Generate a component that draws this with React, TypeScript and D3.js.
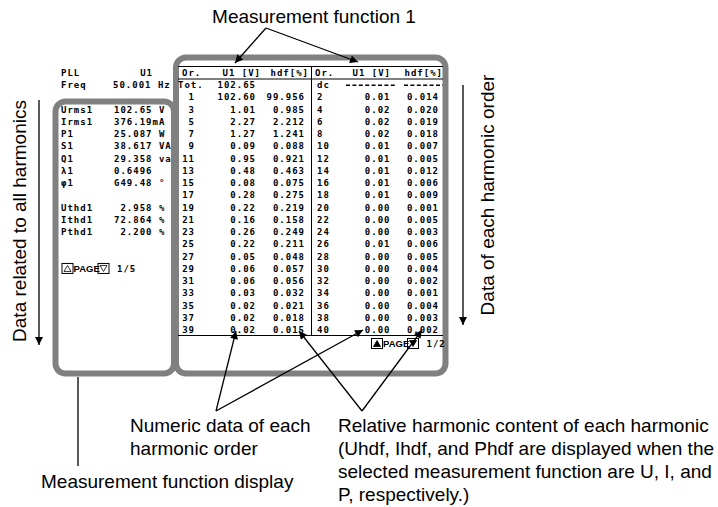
import React, { useEffect, useRef } from 'react';
import * as d3 from 'd3';

// harmonic list, left half (odd orders) and right half (even orders)
const oddOrders = ['Tot.', '1', '3', '5', '7', '9', '11', '13', '15', '17', '19', '21', '23', '25', '27', '29', '31', '33', '35', '37', '39'];
const oddU1 = ['102.65', '102.60', '1.01', '2.27', '1.27', '0.09', '0.95', '0.48', '0.08', '0.28', '0.22', '0.16', '0.26', '0.22', '0.05', '0.06', '0.06', '0.03', '0.02', '0.02', '0.02'];
const oddHdf = ['', '99.956', '0.985', '2.212', '1.241', '0.088', '0.921', '0.463', '0.075', '0.275', '0.219', '0.158', '0.249', '0.211', '0.048', '0.057', '0.056', '0.032', '0.021', '0.018', '0.015'];
const evenOrders = ['dc', '2', '4', '6', '8', '10', '12', '14', '16', '18', '20', '22', '24', '26', '28', '30', '32', '34', '36', '38', '40'];
const evenU1 = ['', '0.01', '0.02', '0.02', '0.02', '0.01', '0.01', '0.01', '0.01', '0.01', '0.00', '0.00', '0.00', '0.01', '0.00', '0.00', '0.00', '0.00', '0.00', '0.00', '0.00'];
const evenHdf = ['', '0.014', '0.020', '0.019', '0.018', '0.007', '0.005', '0.012', '0.006', '0.009', '0.001', '0.005', '0.003', '0.006', '0.005', '0.004', '0.002', '0.001', '0.004', '0.003', '0.002'];

// measurement function display (left panel), row index on the same grid
const infoRows = [2, 3, 4, 5, 6, 7, 8, 10, 11, 12];
const infoLabels = ['Urms1', 'Irms1', 'P1', 'S1', 'Q1', 'λ1', 'φ1', 'Uthd1', 'Ithd1', 'Pthd1'];
const infoValues = ['102.65 V', '376.19mA', '25.087 W', '38.617 VA', '29.358 va', '0.6496', 'G49.48 °', ' 2.958 %', '72.864 %', ' 2.200 %'];

const relLines = [
  'Relative harmonic content of each harmonic',
  '(Uhdf, Ihdf, and Phdf are displayed when the',
  'selected measurement function are U, I, and',
  'P, respectively.)',
];

const SANS = '"Liberation Sans", Arial, sans-serif';
const MONO = '"DejaVu Sans Mono", monospace';
const GRAY = '#808080';

const App = () => {
  const svgRef = useRef(null);

  useEffect(() => {
    const width = 718;
    const height = 507;

    const svg = d3.select(svgRef.current)
      .attr('width', width)
      .attr('height', height);
    svg.selectAll('*').remove();

    const rowY = d3.scalePoint()
      .domain(d3.range(oddOrders.length))
      .range([84.7, 329.7]);
    const headerY = 73;

    svg.append('defs').append('marker')
      .attr('id', 'arr')
      .attr('viewBox', '0 0 10 10')
      .attr('refX', 10)
      .attr('refY', 5)
      .attr('markerUnits', 'userSpaceOnUse')
      .attr('markerWidth', 10)
      .attr('markerHeight', 8)
      .attr('orient', 'auto')
      .append('path')
      .attr('d', 'M0,0 L10,5 L0,10 z')
      .attr('fill', '#000');

    // gray frames
    svg.append('rect')
      .attr('x', 55.5).attr('y', 101.5)
      .attr('width', 174 - 55.5).attr('height', 373.5 - 101.5)
      .attr('rx', 10)
      .style('fill', 'none').style('stroke', GRAY).style('stroke-width', 6);
    svg.append('rect')
      .attr('x', 176).attr('y', 57.5)
      .attr('width', 445.5 - 176).attr('height', 373.5 - 57.5)
      .attr('rx', 10)
      .style('fill', 'none').style('stroke', GRAY).style('stroke-width', 6);

    const mono = (x, y, txt, anchor = 'start', size = 9, ls = 1) =>
      svg.append('text')
        .attr('x', x).attr('y', y).attr('dy', '0.37em')
        .attr('text-anchor', anchor)
        .style('font-family', MONO)
        .style('font-weight', 'bold')
        .style('font-size', size + 'px')
        .style('letter-spacing', ls + 'px')
        .style('white-space', 'pre')
        .style('fill', '#000')
        .text(txt);

    // table rules
    const tl = (x1, y1, x2, y2) => svg.append('line')
      .attr('x1', x1).attr('y1', y1).attr('x2', x2).attr('y2', y2)
      .style('stroke', '#000').style('stroke-width', 1);
    tl(178, 66.5, 443, 66.5);
    tl(178, 79, 443, 79);
    tl(178, 335.5, 443, 335.5);
    tl(311.5, 66.5, 311.5, 335.5);

    // headers
    mono(182, headerY, 'Or.');
    mono(261, headerY, 'U1 [V]', 'end');
    mono(309, headerY, 'hdf[%]', 'end');
    mono(315, headerY, 'Or.');
    mono(391, headerY, 'U1 [V]', 'end');
    mono(443, headerY, 'hdf[%]', 'end');

    oddOrders.forEach((o, i) => {
      if (i === 0) mono(178, rowY(i), o);
      else mono(195, rowY(i), o, 'end');
      mono(256, rowY(i), oddU1[i], 'end');
      if (oddHdf[i]) mono(305, rowY(i), oddHdf[i], 'end');
    });
    evenOrders.forEach((o, i) => {
      mono(317, rowY(i), o);
      if (evenU1[i]) mono(390.5, rowY(i), evenU1[i], 'end');
      if (evenHdf[i]) mono(439, rowY(i), evenHdf[i], 'end');
    });
    // dashes of the dc row
    [[346, 397], [404, 443]].forEach(([a, b]) => {
      svg.append('line')
        .attr('x1', a).attr('x2', b)
        .attr('y1', rowY(0) + 0.5).attr('y2', rowY(0) + 0.5)
        .style('stroke', '#000').style('stroke-width', 1.4)
        .style('stroke-dasharray', '4 2.4');
    });

    // left panel
    mono(61, headerY, 'PLL');
    mono(153, headerY, 'U1', 'end');
    mono(61, rowY(0), 'Freq');
    mono(113, rowY(0), '50.001 Hz');
    infoRows.forEach((r, i) => {
      mono(61, rowY(r), infoLabels[i]);
      mono(114, rowY(r), infoValues[i]);
    });

    // page buttons
    const pageBtn = (x, y, filled, pageTxt) => {
      const cy = y;
      const box = (bx, up) => {
        svg.append('rect')
          .attr('x', bx).attr('y', cy - 5)
          .attr('width', 11).attr('height', 10)
          .style('fill', 'none').style('stroke', '#000').style('stroke-width', 1);
        const tri = up
          ? `M${bx + 2},${cy + 3} L${bx + 5.5},${cy - 3} L${bx + 9},${cy + 3} Z`
          : `M${bx + 2},${cy - 3} L${bx + 5.5},${cy + 3} L${bx + 9},${cy - 3} Z`;
        svg.append('path').attr('d', tri)
          .style('fill', filled ? '#000' : 'none')
          .style('stroke', '#000').style('stroke-width', 0.8);
      };
      box(x, true);
      svg.append('text')
        .attr('x', x + 11.5).attr('y', cy).attr('dy', '0.37em')
        .style('font-family', SANS).style('font-weight', 'bold')
        .style('font-size', '9.5px').style('fill', '#000')
        .text('PAGE');
      box(x + 36, false);
      mono(x + 55, cy, pageTxt);
    };
    pageBtn(62, rowY(15), false, '1/5');
    pageBtn(371.5, 343.5, true, '1/2');

    // annotations
    const label = (x, y, txt, anchor = 'start') => svg.append('text')
      .attr('x', x).attr('y', y)
      .attr('text-anchor', anchor)
      .style('font-family', SANS)
      .style('font-size', '19px')
      .style('fill', '#000')
      .text(txt);
    const arrow = (x1, y1, x2, y2, head = true) => svg.append('line')
      .attr('x1', x1).attr('y1', y1).attr('x2', x2).attr('y2', y2)
      .style('stroke', '#000').style('stroke-width', 1.3)
      .attr('marker-end', head ? 'url(#arr)' : null);

    label(314, 23, 'Measurement function 1', 'middle');
    arrow(266, 28, 235, 63);
    arrow(266, 28, 358, 62);

    label(130, 432, 'Numeric data of each');
    label(130, 455, 'harmonic order');
    arrow(216, 411, 236, 331);
    arrow(216, 411, 363, 330);

    relLines.forEach((t, i) => label(338, 432 + i * 23, t));
    arrow(362, 411, 299, 331);
    arrow(362, 411, 422, 330);

    label(41, 488, 'Measurement function display');
    arrow(78, 377, 78, 466, false);

    svg.append('text')
      .attr('transform', 'translate(25.5,221) rotate(-90)')
      .attr('text-anchor', 'middle')
      .style('font-family', SANS).style('font-size', '19px').style('fill', '#000')
      .text('Data related to all harmonics');
    arrow(39, 100, 39, 345);

    svg.append('text')
      .attr('transform', 'translate(494,195) rotate(-90)')
      .attr('text-anchor', 'middle')
      .style('font-family', SANS).style('font-size', '19px').style('fill', '#000')
      .text('Data of each harmonic order');
    arrow(463, 85, 463, 325);
  }, []);

  return (
    <svg ref={svgRef} style={{ position: 'absolute', left: 0, top: 0 }}></svg>
  );
};

export default App;
